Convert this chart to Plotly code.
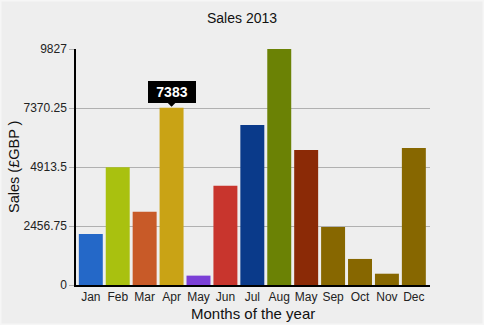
import plotly.graph_objects as go

months = ["Jan", "Feb", "Mar", "Apr", "May", "Jun", "Jul", "Aug", "May", "Sep", "Oct", "Nov", "Dec"]
sales = [2125, 4900, 3050, 7383, 390, 4135, 6660, 9827, 5620, 2415, 1085, 470, 5705]
colors = ["#2468C8", "#A9C10F", "#C85A28", "#C9A315", "#7B3FD6", "#C8352D", "#0A3A8A",
          "#6B8205", "#8B2A06", "#876700", "#876700", "#876700", "#876700"]
y_ticks = [0, 2456.75, 4913.5, 7370.25, 9827]
y_ticklabels = ["0", "2456.75", "4913.5", "7370.25", "9827"]
highlight = 3

x = list(range(len(months)))

fig = go.Figure()
fig.add_trace(go.Bar(
    x=x, y=sales,
    marker=dict(color=colors, line=dict(width=0)),
    hoverinfo="skip",
))

fig.add_annotation(
    x=x[highlight], y=sales[highlight], xref="x", yref="y",
    text="<b>%d</b>" % sales[highlight],
    font=dict(family="Arial", size=14, color="white"),
    bgcolor="black", bordercolor="black", borderwidth=1, borderpad=3,
    width=40, height=14, align="center",
    showarrow=True, ax=0, ay=-16, arrowhead=1, arrowwidth=2.5, arrowsize=1,
    arrowcolor="black", standoff=1,
)

fig.add_annotation(
    x=0.0, y=0.5, xref="paper", yref="paper", xshift=-62,
    text="Sales (£GBP )", textangle=-90, showarrow=False,
    font=dict(family="Arial", size=14.5, color="#111"),
    xanchor="center", yanchor="middle",
)

fig.add_annotation(
    x=0.5, y=0.0, xref="paper", yref="paper", yshift=-28,
    text="Months of the year", showarrow=False,
    font=dict(family="Arial", size=15, color="#111"),
    xanchor="center", yanchor="middle",
)

fig.update_layout(
    width=484, height=325,
    margin=dict(l=76, r=54, t=49, b=40),
    paper_bgcolor="#eeeeee", plot_bgcolor="#eeeeee",
    bargap=0.11,
    showlegend=False,
    title=dict(text="Sales 2013", x=0.5, xref="container", xanchor="center",
               y=1 - 18 / 325, yref="container", yanchor="middle",
               font=dict(family="Arial", size=14, color="#111")),
    font=dict(family="Arial", size=12, color="#222"),
    xaxis=dict(
        tickmode="array", tickvals=x, ticktext=months,
        range=[-0.55, 12.6], showgrid=False, zeroline=False,
        showline=True, linecolor="black", linewidth=2,
        ticks="", ticklen=0, automargin=False,
        tickfont=dict(family="Arial", size=12, color="#222"),
    ),
    yaxis=dict(
        range=[0, 9827], tickmode="array", tickvals=y_ticks, ticktext=y_ticklabels,
        showgrid=True, gridcolor="#b0b0b0", gridwidth=1, zeroline=False,
        showline=True, linecolor="black", linewidth=1.5, automargin=False,
        ticks="outside", ticklen=5, tickcolor="#b0b0b0",
        tickfont=dict(family="Arial", size=12, color="#222"),
    ),
    shapes=[dict(type="rect", xref="paper", yref="paper", x0=-76/354, x1=1 + 54/354,
                 y0=-40/236, y1=1 + 49/236, line=dict(color="#f6f6f6", width=3),
                 layer="below")],
)

fig.write_html("out.html")
